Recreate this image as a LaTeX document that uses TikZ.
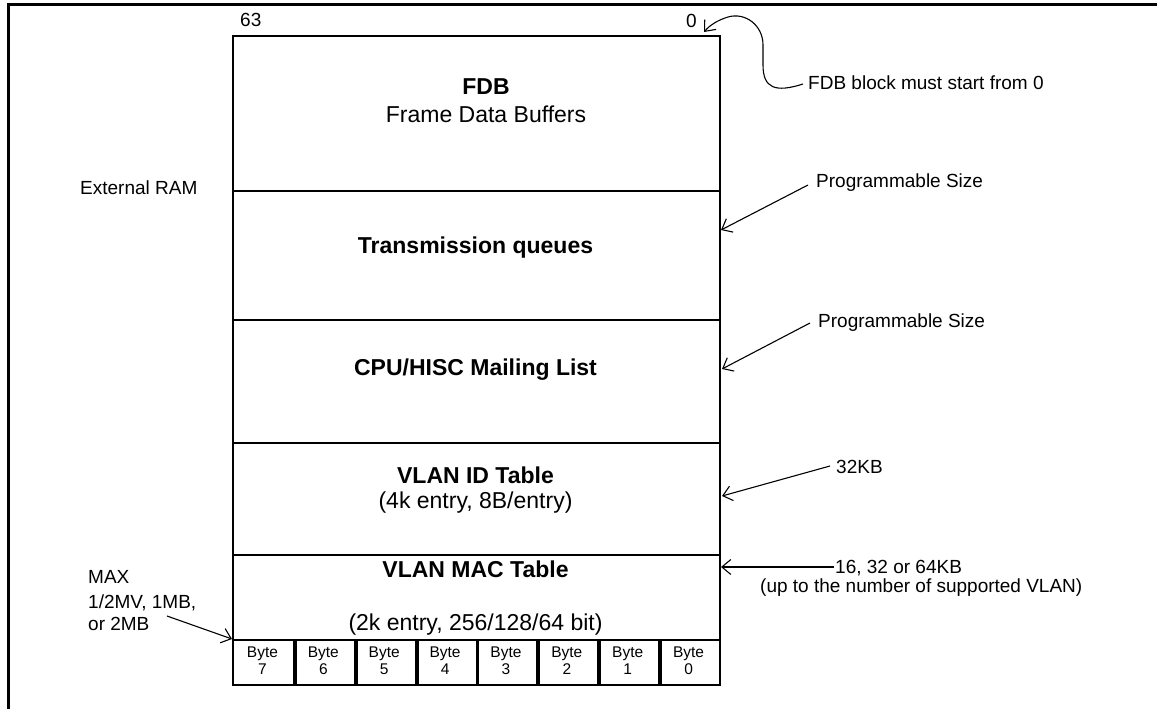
\documentclass[tikz,border=0pt]{standalone}
\usepackage{fontspec}
\setmainfont{Liberation Sans}
\usetikzlibrary{arrows.meta}
\begin{document}
\begin{tikzpicture}[x=1pt,y=-1pt,
  big/.style={font=\fontsize{23}{27}\selectfont, inner sep=0pt, anchor=base},
  bigb/.style={font=\fontsize{23}{27}\selectfont\bfseries, inner sep=0pt, anchor=base},
  ann/.style={font=\fontsize{19}{23}\selectfont, inner sep=0pt, anchor=base west},
  cell/.style={draw, line width=2.2pt, minimum width=60.875pt, minimum height=45pt, inner sep=0pt, anchor=north west},
  celltxt/.style={font=\fontsize{15.5}{17}\selectfont, inner sep=0pt, anchor=base},
  region/.style={draw, line width=2.2pt, minimum width=487pt, anchor=north west, inner sep=0pt},
  arr/.style={line width=1.1pt, -{Straight Barb[length=9pt,width=15pt]}}
]
\useasboundingbox (0,0) rectangle (1157,709);
% outer frame (only top and left edges visible)
\draw[line width=3pt] (8,709) -- (8,5) -- (1157,5);

% memory regions
\node[region, minimum height=155pt] (fdb) at (232,35) {};
\node[region, minimum height=129pt] (tq) at (232,190) {};
\node[region, minimum height=123pt] (cpu) at (232,319) {};
\node[region, minimum height=112pt] (vid) at (232,442) {};
\node[region, minimum height=85pt] (vmac) at (232,554) {};

% byte cells
\foreach \i in {0,...,7}{
  \pgfmathtruncatemacro\d{7-\i}
  \node[cell] (b\i) at ({232+\i*60.875},639) {};
  \node[celltxt] (bt\i) at ({232+\i*60.875+30.44},657) {Byte};
  \node[celltxt] (bd\i) at ({232+\i*60.875+30.44},674) {\d};
}
\foreach \i in {0,...,6}{
  \draw[line width=3.4pt] (b\i.north east) -- (b\i.south east);
}

% region labels
\node[bigb] (fdbt) at (486,95) {FDB};
\node[big] (fdbs) at (486,122) {Frame Data Buffers};
\node[bigb] (tqt) at (475.5,253) {Transmission queues};
\node[bigb] (cput) at (475.5,375) {CPU/HISC Mailing List};
\node[bigb] (vidt) at (475.5,483) {VLAN ID Table};
\node[big] (vids) at (475.5,508) {(4k entry, 8B/entry)};
\node[bigb] (vmt) at (475.5,577) {VLAN MAC Table};
\node[big] (vms) at (475.5,630) {(2k entry, 256/128/64 bit)};

% annotations
\node[ann] (n63) at (240,27) {63};
\node[ann] (n0) at (686,28) {0};
\node[ann] (fdbnote) at (808,89) {FDB block must start from 0};
\node[ann] (ext) at (80,194) {External RAM};
\node[ann] (ps1) at (816,187) {Programmable Size};
\node[ann] (ps2) at (818,327) {Programmable Size};
\node[ann] (kb32) at (836,473) {32KB};
\node[ann] (kb16) at (835,573) {16, 32 or 64KB};
\node[ann] (upto) at (760,592) {(up to the number of supported VLAN)};
\node[ann] (max1) at (88,583) {MAX};
\node[ann] (max2) at (88,608) {1/2MV, 1MB,};
\node[ann] (max3) at (88,630) {or 2MB};

% arrow end points
\coordinate (c0s) at (803,84);
\coordinate (c0e) at (704,32);
\coordinate (a1s) at (808,185);
\coordinate (a1e) at (721,230);
\coordinate (a2s) at (810,323);
\coordinate (a2e) at (722,369);
\coordinate (a3s) at (830,466);
\coordinate (a3e) at (722,496);
\coordinate (a4s) at (834,567);
\coordinate (a4e) at (721,567);
\coordinate (a5s) at (167,616);
\coordinate (a5e) at (232,639);

% connectors
\draw[arr] (c0s) .. controls (775,93) and (763,88) .. (763,65)
  -- (763,45) .. controls (763,25) and (745,12) .. (728,17)
  .. controls (718,20) and (710,25) .. (c0e);
\draw[arr] (a1s) -- (a1e);
\draw[arr] (a2s) -- (a2e);
\draw[arr] (a3s) -- (a3e);
\draw[arr] (a4s) -- (a4e);
\draw[arr] (a5s) -- (a5e);
\end{tikzpicture}
\end{document}
